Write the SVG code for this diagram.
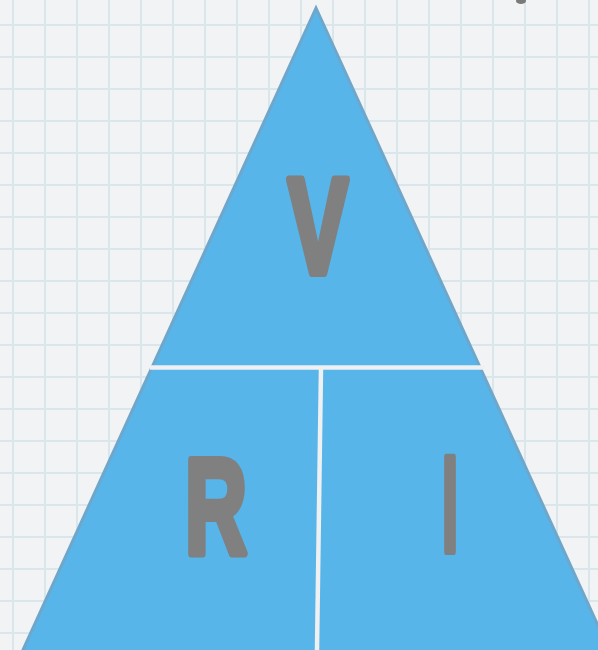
<svg xmlns="http://www.w3.org/2000/svg" width="598" height="650" viewBox="0 0 598 650">
  <defs>
    <pattern id="grid" patternUnits="userSpaceOnUse" x="0" y="0" width="32" height="32">
      <rect width="32" height="32" fill="#f1f3f4"/>
      <path d="M13,0 V32 M0,25 H32" stroke="#d9e6eb" stroke-width="2" fill="none"/>
    </pattern>
    <style>
      .tri { fill: #57b5e9; stroke: #6ea7cb; stroke-width: 3; stroke-linejoin: miter; }
      .sep { stroke: #eef0f1; stroke-width: 4.5; fill: none; }
      .lbl { font-family: "Liberation Sans", "DejaVu Sans", sans-serif; font-weight: bold; font-size: 136px; fill: #808080; stroke: #808080; stroke-width: 8; stroke-linejoin: round; text-anchor: middle; }
    </style>
  </defs>
  <rect x="0" y="0" width="598" height="650" fill="url(#grid)"/>
  <ellipse cx="521" cy="1" rx="5" ry="3" fill="#7a7a7a"/>
  <g id="triangle">
    <polygon class="tri" points="316,8 22,652 610,652"/>
  </g>
  <g id="connectors">
    <line class="sep" x1="150" y1="367.5" x2="484" y2="367.5"/>
    <line class="sep" x1="321" y1="367" x2="317" y2="650"/>
  </g>
  <g id="node-V">
    <text class="lbl" x="318" y="273" textLength="60" lengthAdjust="spacingAndGlyphs">V</text>
  </g>
  <g id="node-R">
    <text class="lbl" x="216" y="553" textLength="62" lengthAdjust="spacingAndGlyphs">R</text>
  </g>
  <g id="node-I">
    <text class="lbl" x="450" y="551" textLength="16" lengthAdjust="spacingAndGlyphs">I</text>
  </g>
</svg>
